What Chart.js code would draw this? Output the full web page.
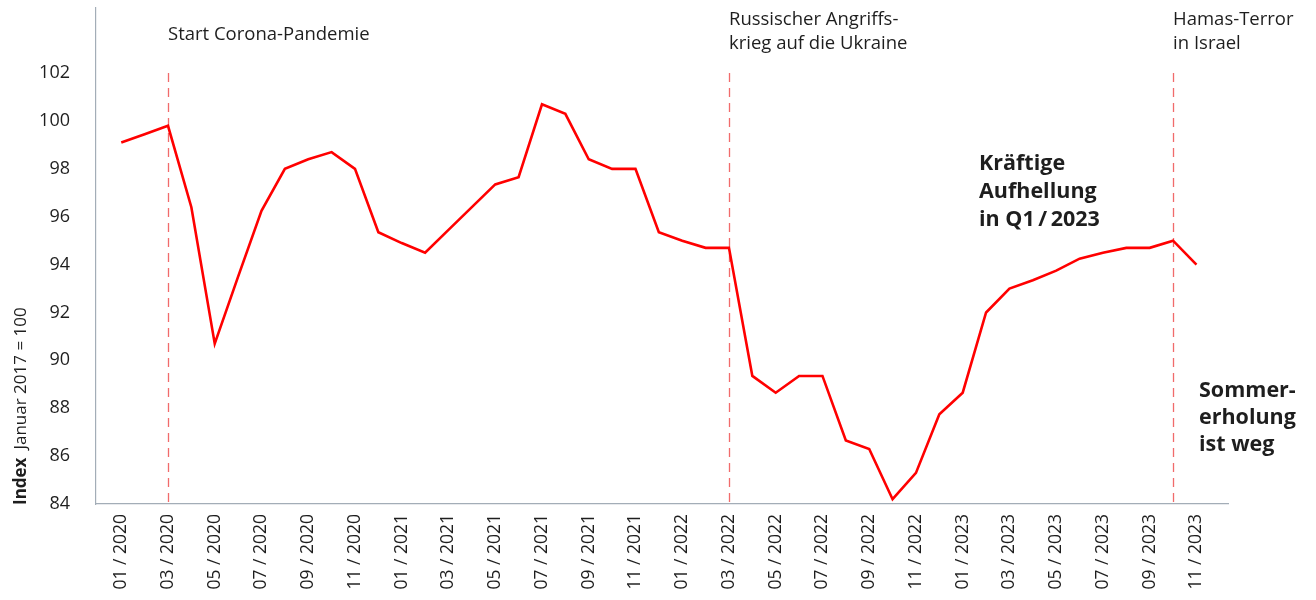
<!DOCTYPE html>
<html lang="de">
<head>
<meta charset="utf-8">
<script src="https://cdn.jsdelivr.net/npm/chart.js@4/dist/chart.umd.min.js"></script>
<style>
  html, body { margin: 0; padding: 0; background: #fff; }
  #wrap { width: 1316px; height: 600px; position: relative; }
</style>
</head>
<body>
<div id="wrap"><canvas id="chart"></canvas></div>
<script>
// Monatswerte 01/2020 – 11/2023 (Index Januar 2017 = 100)
const months = [
  '01/2020','02/2020','03/2020','04/2020','05/2020','06/2020','07/2020','08/2020','09/2020','10/2020','11/2020','12/2020',
  '01/2021','02/2021','03/2021','04/2021','05/2021','06/2021','07/2021','08/2021','09/2021','10/2021','11/2021','12/2021',
  '01/2022','02/2022','03/2022','04/2022','05/2022','06/2022','07/2022','08/2022','09/2022','10/2022','11/2022','12/2022',
  '01/2023','02/2023','03/2023','04/2023','05/2023','06/2023','07/2023','08/2023','09/2023','10/2023','11/2023'
];
const indexValues = [
  99.1, 99.45, 99.8, 96.4, 90.7, 93.5, 96.25, 98.0, 98.4, 98.7, 98.0, 95.35,
  94.9, 94.5, 95.45, 96.4, 97.35, 97.65, 100.7, 100.3, 98.4, 98.0, 98.0, 95.35,
  95.0, 94.7, 94.7, 89.35, 88.65, 89.35, 89.35, 86.65, 86.3, 84.2, 85.3, 87.75,
  88.65, 92.0, 93.0, 93.35, 93.75, 94.25, 94.5, 94.7, 94.7, 95.0, 94.0
];
const yTicks = [84, 86, 88, 90, 92, 94, 96, 98, 100, 102];

// Ereignisse: Monat + Beschriftungszeilen
const eventMonths = ['03/2020', '03/2022', '10/2023'];
const eventLabels = [
  ['Start Corona-Pandemie'],
  ['Russischer Angriffs-', 'krieg auf die Ukraine'],
  ['Hamas-Terror', 'in Israel']
];
const noteRecovery = ['Kräftige', 'Aufhellung', 'in Q1\u2009/\u20092023'];
const noteSummer = ['Sommer-', 'erholung', 'ist weg'];

const FONT = '"Open Sans", "Noto Sans", sans-serif';
const AXIS = '#a3adb7';
const TEXT = '#1e1e1e';

const fmtMonth = m => m.replace('/', ' / ');

const eventsPlugin = {
  id: 'events',
  beforeDatasetsDraw(chart) {
    const { ctx, scales: { x, y } } = chart;
    ctx.save();
    ctx.strokeStyle = 'rgba(238,70,70,0.8)';
    ctx.lineWidth = 1.3;
    ctx.setLineDash([9, 6]);
    eventMonths.forEach(m => {
      const px = Math.round(x.getPixelForValue(months.indexOf(m))) + 0.5;
      ctx.beginPath();
      ctx.moveTo(px, y.getPixelForValue(102));
      ctx.lineTo(px, y.bottom);
      ctx.stroke();
    });
    ctx.restore();
  },
  afterDraw(chart) {
    const { ctx, scales: { x } } = chart;
    ctx.save();
    ctx.fillStyle = TEXT;
    ctx.textBaseline = 'alphabetic';
    ctx.textAlign = 'left';

    // Ereignis-Beschriftungen
    ctx.font = '18.5px ' + FONT;
    eventLabels.forEach((lines, i) => {
      const px = x.getPixelForValue(months.indexOf(eventMonths[i]));
      const top = lines.length === 1 ? 40 : 25;
      lines.forEach((t, j) => ctx.fillText(t, px, top + j * 24));
    });

    // Kommentare
    ctx.font = 'bold 21.5px ' + FONT;
    noteRecovery.forEach((t, j) => ctx.fillText(t, 979, 170 + j * 28));
    noteSummer.forEach((t, j) => ctx.fillText(t, 1199, 397 + j * 27));

    // Achsentitel
    ctx.translate(26, 505);
    ctx.rotate(-Math.PI / 2);
    ctx.font = 'bold 17px ' + FONT;
    ctx.fillText('Index', 0, 0);
    const w = ctx.measureText('Index').width;
    ctx.font = '17px ' + FONT;
    ctx.fillText('Januar 2017 = 100', w + 8, 0);
    ctx.restore();
  }
};

new Chart(document.getElementById('chart'), {
  type: 'line',
  data: {
    datasets: [{
      data: indexValues.map((v, i) => ({ x: i, y: v })),
      borderColor: '#ff0000',
      borderWidth: 2.6,
      pointRadius: 0,
      tension: 0,
      fill: false
    }]
  },
  options: {
    responsive: true,
    maintainAspectRatio: false,
    animation: false,
    layout: { padding: { left: 0, right: 88, top: 8, bottom: 0 } },
    plugins: { legend: { display: false }, tooltip: { enabled: false } },
    scales: {
      x: {
        type: 'linear',
        min: -1.08,
        max: 47.35,
        grid: { display: false, drawTicks: false },
        border: { display: true, color: AXIS, width: 1.2 },
        afterBuildTicks: s => { s.ticks = months.map((m, i) => ({ value: i })).filter(t => t.value % 2 === 0); },
        afterFit: s => { s.height = 96; s.paddingLeft = 0; s.paddingRight = 0; },
        ticks: {
          autoSkip: false,
          minRotation: 90,
          maxRotation: 90,
          padding: 10,
          color: TEXT,
          font: { family: FONT, size: 17.5 },
          callback: v => fmtMonth(months[v])
        }
      },
      y: {
        min: 84,
        max: 104.72,
        grid: { display: false, drawTicks: false },
        border: { display: true, color: AXIS, width: 1.2 },
        afterBuildTicks: s => { s.ticks = yTicks.map(v => ({ value: v })); },
        afterFit: s => { s.width = 96; s.paddingTop = 0; s.paddingBottom = 0; },
        ticks: {
          padding: 26,
          color: TEXT,
          font: { family: FONT, size: 18 }
        }
      }
    }
  },
  plugins: [eventsPlugin]
});
</script>
</body>
</html>
